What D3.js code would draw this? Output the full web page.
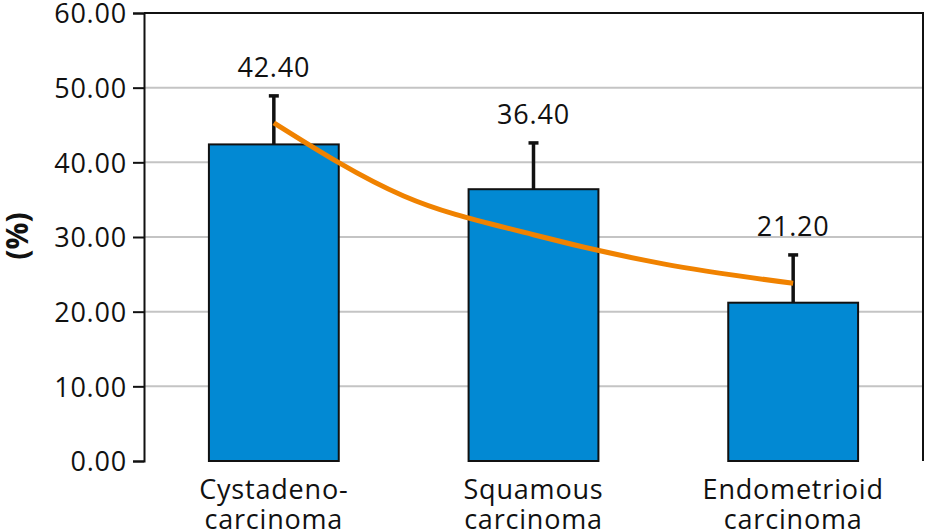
<!DOCTYPE html>
<html>
<head>
<meta charset="utf-8">
<script src="https://cdn.jsdelivr.net/npm/d3@7"></script>
<style>
  body { margin: 0; background: #fff; }
  text { font-family: "Open Sans", "Noto Sans", sans-serif; fill: #111; }
</style>
</head>
<body>
<script>
// categories, each label split on two lines
var categories = ["Cystadeno-carcinoma", "Squamous carcinoma", "Endometrioid carcinoma"];
var labelLines = [["Cystadeno-", "carcinoma"], ["Squamous", "carcinoma"], ["Endometrioid", "carcinoma"]];
var values = [42.40, 36.40, 21.20];
var errors = [6.5, 6.2, 6.4];
// trend curve, x in category units (1..3)
var trendX = [1, 1.5, 2, 2.5, 3];
var trendY = [45.3, 35.5, 30.3, 26.4, 23.8];
var yTicks = [0, 10, 20, 30, 40, 50, 60];

var chart = {
  "width": 925,
  "height": 532,
  "left": 144,
  "right": 923,
  "top": 13,
  "bottom": 461,
  "font": "27px"
};
chart.colors = {
  "bar": "#0289d3",
  "trend": "#f08200",
  "grid": "#c4c4c4"
};

var svg = d3.select("body").append("svg")
  .attr("width", chart.width)
  .attr("height", chart.height);

var x = d3.scaleBand()
  .domain(categories)
  .range([chart.left, chart.right])
  .paddingInner(0.5)
  .paddingOuter(0.25);

var y = d3.scaleLinear()
  .domain([0, 60])
  .range([chart.bottom, chart.top]);

// category units -> pixel center
var xc = d3.scaleLinear()
  .domain([1, 3])
  .range([x(categories[0]) + x.bandwidth()/2, x(categories[2]) + x.bandwidth()/2]);

//gridlines
svg.append("g")
  .selectAll("line")
  .data(yTicks.slice(1, -1))
  .enter().append("line")
  .attr("x1", chart.left)
  .attr("x2", chart.right)
  .attr("y1", function(d){ return y(d); })
  .attr("y2", function(d){ return y(d); })
  .attr("stroke", chart.colors.grid)
  .attr("stroke-width", 2);

//frame top + right
svg.append("path")
  .attr("d", "M" + chart.left + "," + chart.top + "H" + chart.right + "V" + chart.bottom)
  .attr("fill", "none")
  .attr("stroke", "#111")
  .attr("stroke-width", 2);

//y axis
var yAxis = svg.append("g")
  .attr("transform", "translate(" + chart.left + ",0)")
  .call(d3.axisLeft(y).tickValues(yTicks).tickSize(11).tickPadding(6)
    .tickFormat(d3.format(".2f")));
yAxis.select(".domain").attr("stroke", "#111").attr("stroke-width", 2);
yAxis.selectAll(".tick line").attr("stroke", "#111").attr("stroke-width", 2);
yAxis.selectAll(".tick text")
  .attr("fill", "#111")
  .style("font-size", chart.font)
  .style("letter-spacing", "0.8px")
  .attr("dy", "0.36em");

//bars
svg.append("g")
  .selectAll("rect")
  .data(values)
  .enter().append("rect")
  .attr("x", function(d, i){ return x(categories[i]); })
  .attr("y", function(d){ return y(d); })
  .attr("width", x.bandwidth())
  .attr("height", function(d){ return y(0) - y(d); })
  .attr("fill", chart.colors.bar)
  .attr("stroke", "#111")
  .attr("stroke-width", 2);

//error bars
var eb = svg.append("g").selectAll("g")
  .data(values)
  .enter().append("g");
eb.append("line")
  .attr("x1", function(d, i){ return x(categories[i]) + x.bandwidth()/2; })
  .attr("x2", function(d, i){ return x(categories[i]) + x.bandwidth()/2; })
  .attr("y1", function(d){ return y(d); })
  .attr("y2", function(d, i){ return y(d + errors[i]); })
  .attr("stroke", "#111")
  .attr("stroke-width", 3.5);
eb.append("line")
  .attr("x1", function(d, i){ return x(categories[i]) + x.bandwidth()/2 - 5; })
  .attr("x2", function(d, i){ return x(categories[i]) + x.bandwidth()/2 + 5; })
  .attr("y1", function(d, i){ return y(d + errors[i]); })
  .attr("y2", function(d, i){ return y(d + errors[i]); })
  .attr("stroke", "#111")
  .attr("stroke-width", 3.5);

//trend curve
var line = d3.line()
  .x(function(d){ return xc(d); })
  .y(function(d, i){ return y(trendY[i]); })
  .curve(d3.curveMonotoneX);
svg.append("path")
  .datum(trendX)
  .attr("d", line)
  .attr("fill", "none")
  .attr("stroke", chart.colors.trend)
  .attr("stroke-width", 5);

//value labels
svg.append("g")
  .selectAll("text")
  .data(values)
  .enter().append("text")
  .attr("x", function(d, i){ return x(categories[i]) + x.bandwidth()/2; })
  .attr("y", function(d, i){ return y(d + errors[i]) - 19; })
  .attr("text-anchor", "middle")
  .style("font-size", chart.font)
  .style("letter-spacing", "0.8px")
  .text(function(d){ return d3.format(".2f")(d); });

//category labels
var cl = svg.append("g")
  .selectAll("text")
  .data(labelLines)
  .enter().append("text")
  .attr("x", function(d, i){ return x(categories[i]) + x.bandwidth()/2; })
  .attr("y", 499)
  .attr("text-anchor", "middle")
  .style("font-size", chart.font)
  .style("letter-spacing", "0.8px");
cl.selectAll("tspan")
  .data(function(d){ return d; })
  .enter().append("tspan")
  .attr("x", function(){ return this.parentNode.getAttribute("x"); })
  .attr("dy", function(d, i){ return i === 0 ? 0 : 30; })
  .text(function(d){ return d; });

//y title
svg.append("text")
  .attr("transform", "translate(28,236) rotate(-90)")
  .attr("text-anchor", "middle")
  .style("font-size", "30px")
  .style("font-weight", "bold")
  .text("(%)");
</script>
</body>
</html>
